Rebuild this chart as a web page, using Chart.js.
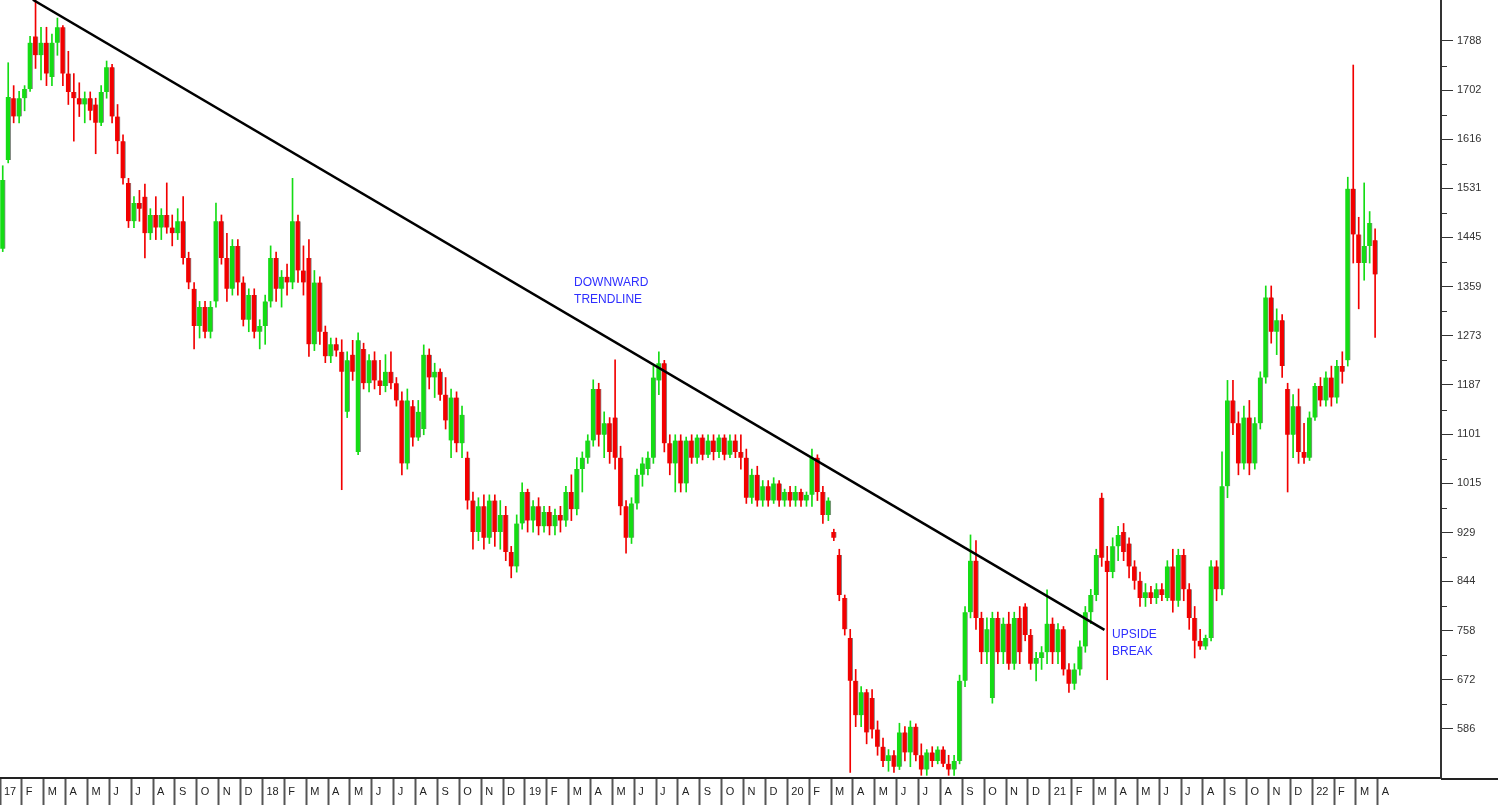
<!DOCTYPE html>
<html>
<head>
<meta charset="utf-8">
<script src="https://cdn.jsdelivr.net/npm/chart.js@4"></script>
<style>
  html, body { margin: 0; padding: 0; background: #fff; }
  #wrap { width: 1498px; height: 805px; }
</style>
</head>
<body>
<div id="wrap"><canvas id="chart"></canvas></div>
<script>
// weekly candles, Jan 2017 .. Mar 2022 (4 per month)
const opens = [
  1425,1580,1688,1656,1688,1704,1796,1763,1785,1725,1785,1812,1731,1699,1688,1677,1688,1677,1645,1699,1742,1656,1613,1540,1473,1505,1516,1452,1484,1462,1484,1462,1452,1473,1409,1355,1290,1323,1280,1333,1473,1409,1355,1430,1366,1301,1344,1280,
  1290,1333,1409,1355,1376,1366,1473,1387,1409,1258,1366,1280,1237,1258,1245,1140,1240,1070,1250,1190,1230,1195,1185,1210,1190,1160,1050,1150,1095,1110,1240,1200,1210,1170,1090,1165,1085,1060,985,930,975,920,985,930,960,895,870,945,
  1000,950,975,940,965,940,960,950,1000,970,1040,1060,1090,1180,1100,1120,1130,1060,975,920,980,1030,1040,1060,1195,1225,1085,1050,1090,1015,1090,1060,1095,1065,1090,1070,1095,1065,1090,1070,1060,990,1030,985,1010,985,1015,985,
  1000,985,1000,985,995,1060,1000,960,930,890,815,745,670,610,650,640,585,555,530,540,520,580,545,590,540,515,545,530,550,525,515,530,670,790,880,780,720,640,780,720,770,700,780,800,750,700,710,720,
  770,720,760,690,665,690,730,790,820,990,880,860,905,930,910,870,845,815,825,815,830,815,870,810,890,830,780,740,730,745,870,830,1010,1160,1120,1050,1130,1050,1120,1200,1340,1280,1300,1180,1100,1150,1070,1060,
  1130,1185,1160,1200,1165,1220,1230,1530,1450,1400,1430,1440
];
const highs = [
  1570,1750,1710,1700,1710,1796,1860,1812,1812,1800,1828,1815,1770,1731,1715,1699,1699,1688,1710,1753,1747,1677,1624,1548,1516,1527,1538,1495,1516,1495,1540,1484,1495,1516,1419,1366,1333,1333,1333,1505,1484,1452,1441,1441,1376,1355,1355,1301,
  1344,1430,1419,1387,1398,1548,1484,1430,1441,1387,1376,1290,1269,1269,1266,1245,1265,1278,1260,1240,1245,1230,1240,1245,1200,1175,1180,1160,1160,1257,1250,1225,1215,1200,1180,1175,1150,1070,1000,990,995,995,995,985,975,905,960,1016,
  1005,985,990,975,975,970,975,1010,1030,1060,1070,1100,1196,1190,1140,1130,1231,1080,985,990,1040,1060,1070,1220,1245,1230,1100,1100,1100,1096,1100,1100,1100,1100,1100,1100,1100,1100,1100,1100,1075,1040,1045,1020,1020,1025,1020,1005,
  1010,1010,1005,1000,1075,1065,1010,990,935,900,820,760,690,660,655,655,600,570,550,548,596,590,600,595,560,550,555,555,555,540,540,680,800,925,915,790,780,790,790,780,790,790,800,805,760,720,730,829,
  780,770,765,700,700,740,800,830,900,998,905,920,940,945,920,880,860,840,835,840,840,880,900,900,900,840,800,760,750,880,880,1070,1195,1195,1140,1150,1160,1130,1210,1360,1360,1320,1310,1190,1170,1180,1120,1140,
  1190,1200,1210,1220,1230,1245,1550,1746,1480,1540,1490,1460
];
const lows = [
  1420,1575,1645,1645,1666,1700,1740,1720,1710,1710,1763,1710,1677,1613,1656,1645,1650,1591,1640,1688,1645,1591,1538,1462,1462,1473,1409,1441,1441,1441,1452,1430,1441,1398,1355,1250,1269,1269,1269,1323,1398,1333,1344,1344,1290,1280,1269,1250,
  1258,1323,1333,1323,1344,1355,1366,1344,1237,1247,1258,1226,1226,1237,1004,1130,1195,1065,1180,1175,1180,1170,1175,1180,1150,1030,1040,1080,1090,1100,1180,1165,1160,1110,1060,1070,1060,970,900,915,900,910,905,900,880,850,860,935,
  930,930,925,930,925,925,930,940,950,960,1000,1050,1080,1080,1060,1050,1040,960,893,910,970,1010,1030,1050,1170,1070,1030,1000,1000,1000,1050,1050,1056,1060,1056,1060,1056,1060,1060,1040,980,980,975,975,975,980,975,975,
  975,975,975,975,975,985,945,950,915,810,750,510,590,590,560,570,540,520,512,510,515,530,520,530,505,505,520,525,520,505,505,525,660,780,760,700,700,631,700,700,690,690,700,740,690,670,690,700,
  700,700,680,650,655,680,720,770,810,870,672,850,880,880,850,830,800,800,805,805,810,810,790,800,810,760,710,725,725,740,810,820,990,1100,1030,1040,1030,1040,1110,1190,1260,1240,1200,1000,1060,1050,1050,1055,
  1125,1150,1150,1150,1155,1190,1220,1400,1320,1370,1400,1270
];
const closes = [
  1545,1690,1656,1688,1704,1785,1763,1785,1731,1785,1812,1731,1699,1688,1677,1688,1666,1645,1699,1742,1656,1613,1548,1473,1505,1495,1452,1484,1462,1484,1462,1452,1473,1409,1366,1290,1323,1280,1323,1473,1409,1355,1430,1366,1301,1344,1280,1290,
  1333,1409,1355,1376,1366,1473,1387,1366,1258,1366,1280,1237,1258,1247,1210,1230,1210,1265,1190,1230,1195,1185,1210,1190,1160,1050,1160,1095,1140,1240,1200,1210,1170,1125,1165,1085,1135,985,930,975,920,985,930,960,895,870,945,1000,
  950,975,940,965,940,960,950,1000,970,1040,1060,1090,1180,1100,1120,1070,1060,975,920,980,1030,1050,1060,1200,1225,1085,1050,1090,1015,1090,1060,1095,1065,1090,1070,1095,1065,1090,1070,1060,990,1030,985,1010,985,1015,985,1000,
  985,1000,985,995,1060,1000,960,985,920,820,760,670,610,650,580,585,555,530,540,520,580,545,590,540,515,545,530,550,525,515,530,670,790,880,780,720,760,780,720,770,700,780,720,750,700,710,720,770,
  720,760,690,665,690,730,790,820,890,885,860,905,925,895,870,845,815,825,815,830,820,870,810,890,830,780,740,730,745,870,830,1010,1160,1120,1050,1130,1050,1120,1200,1340,1280,1300,1220,1100,1150,1070,1060,1130,
  1185,1160,1200,1165,1220,1210,1530,1450,1400,1430,1470,1380
];

const monthLabels = [
  '17','F','M','A','M','J','J','A','S','O','N','D',
  '18','F','M','A','M','J','J','A','S','O','N','D',
  '19','F','M','A','M','J','J','A','S','O','N','D',
  '20','F','M','A','M','J','J','A','S','O','N','D',
  '21','F','M','A','M','J','J','A','S','O','N','D',
  '22','F','M','A'
];
const priceTicks = [586, 672, 758, 844, 929, 1015, 1101, 1187, 1273, 1359, 1445, 1531, 1616, 1702, 1788];

// trendline drawn from the Feb 2017 high to the March 2021 break
const trendWeeks = [6, 202];
const trendPrices = [1860, 759];

const notes = [
  { lines: ['DOWNWARD', 'TRENDLINE'], week: 105, price: 1376 },
  { lines: ['UPSIDE', 'BREAK'], week: 203.4, price: 761 }
];

const WEEKS_PER_MONTH = 4;
const X_MAX = 263.55;
const Y_MIN = 500.3, Y_MAX = 1859.6;
const UP = '#14dc14', DOWN = '#f20000';
const FONT = 'Arial, "Liberation Sans", sans-serif';

const colours = closes.map((c, i) => c >= opens[i] ? UP : DOWN);
const wicks = highs.map((h, i) => ({ x: i + 0.5, y: [lows[i], h] }));
const bodies = opens.map((o, i) => ({ x: i + 0.5, y: [o, closes[i]] }));
const trend = trendWeeks.map((w, i) => ({ x: w, y: trendPrices[i] }));

const extras = {
  id: 'extras',
  afterDraw(chart) {
    const ctx = chart.ctx, xs = chart.scales.x, ys = chart.scales.y, area = chart.chartArea;
    ctx.save();
    // minor ticks on the price axis
    ctx.strokeStyle = '#333';
    ctx.lineWidth = 1;
    for (let i = 0; i < priceTicks.length - 1; i++) {
      const y = Math.round(ys.getPixelForValue((priceTicks[i] + priceTicks[i + 1]) / 2)) + 0.5;
      ctx.beginPath();
      ctx.moveTo(ys.left, y);
      ctx.lineTo(ys.left + 6, y);
      ctx.stroke();
    }
    // date band top line continues under the price axis
    ctx.strokeStyle = '#222';
    ctx.lineWidth = 2;
    ctx.beginPath();
    ctx.moveTo(area.right, area.bottom + 1);
    ctx.lineTo(chart.width, area.bottom + 1);
    ctx.stroke();
    // text notes
    ctx.fillStyle = '#2f2fff';
    ctx.font = '12px ' + FONT;
    ctx.textBaseline = 'top';
    ctx.textAlign = 'left';
    notes.forEach(n => {
      const x = xs.getPixelForValue(n.week), y = ys.getPixelForValue(n.price);
      n.lines.forEach((t, k) => ctx.fillText(t, x, y + k * 17));
    });
    ctx.restore();
  }
};

new Chart(document.getElementById('chart'), {
  type: 'bar',
  data: {
    datasets: [
      {
        type: 'line', data: trend, borderColor: '#000', borderWidth: 2.5,
        pointRadius: 0, tension: 0, order: 0
      },
      {
        data: bodies, backgroundColor: colours, borderColor: '#8a8a8a',
        borderWidth: { left: 0, top: 0, bottom: 0, right: 1 }, borderSkipped: false,
        barThickness: 5, grouped: false, order: 1
      },
      {
        data: wicks, backgroundColor: colours, barThickness: 1, grouped: false, order: 2
      }
    ]
  },
  options: {
    responsive: true,
    maintainAspectRatio: false,
    animation: false,
    layout: { padding: 0, autoPadding: false },
    plugins: { legend: { display: false }, tooltip: { enabled: false } },
    scales: {
      x: {
        type: 'linear', min: 0, max: X_MAX, offset: false,
        afterBuildTicks: s => { s.ticks = monthLabels.map((_, i) => ({ value: i * WEEKS_PER_MONTH })); },
        afterFit: s => { s.height = 27; s.paddingLeft = 0; s.paddingRight = 0; },
        ticks: {
          autoSkip: false, maxRotation: 0, minRotation: 0, align: 'start', labelOffset: 4, padding: -20,
          color: '#222', font: { family: FONT, size: 11 },
          callback: v => monthLabels[Math.round(v / WEEKS_PER_MONTH)]
        },
        grid: { offset: false, drawOnChartArea: false, tickLength: 27, tickColor: '#555', tickWidth: 2 },
        border: { color: '#222', width: 2 }
      },
      y: {
        position: 'right', min: Y_MIN, max: Y_MAX,
        afterBuildTicks: s => { s.ticks = priceTicks.map(v => ({ value: v })); },
        afterFit: s => { s.width = 57; s.paddingTop = 0; s.paddingBottom = 0; },
        ticks: { padding: 4, color: '#333', font: { family: FONT, size: 11 }, callback: v => String(v) },
        grid: { drawOnChartArea: false, tickLength: 12, tickColor: '#333', tickWidth: 1 },
        border: { color: '#333', width: 2 }
      }
    }
  },
  plugins: [extras]
});
</script>
</body>
</html>
